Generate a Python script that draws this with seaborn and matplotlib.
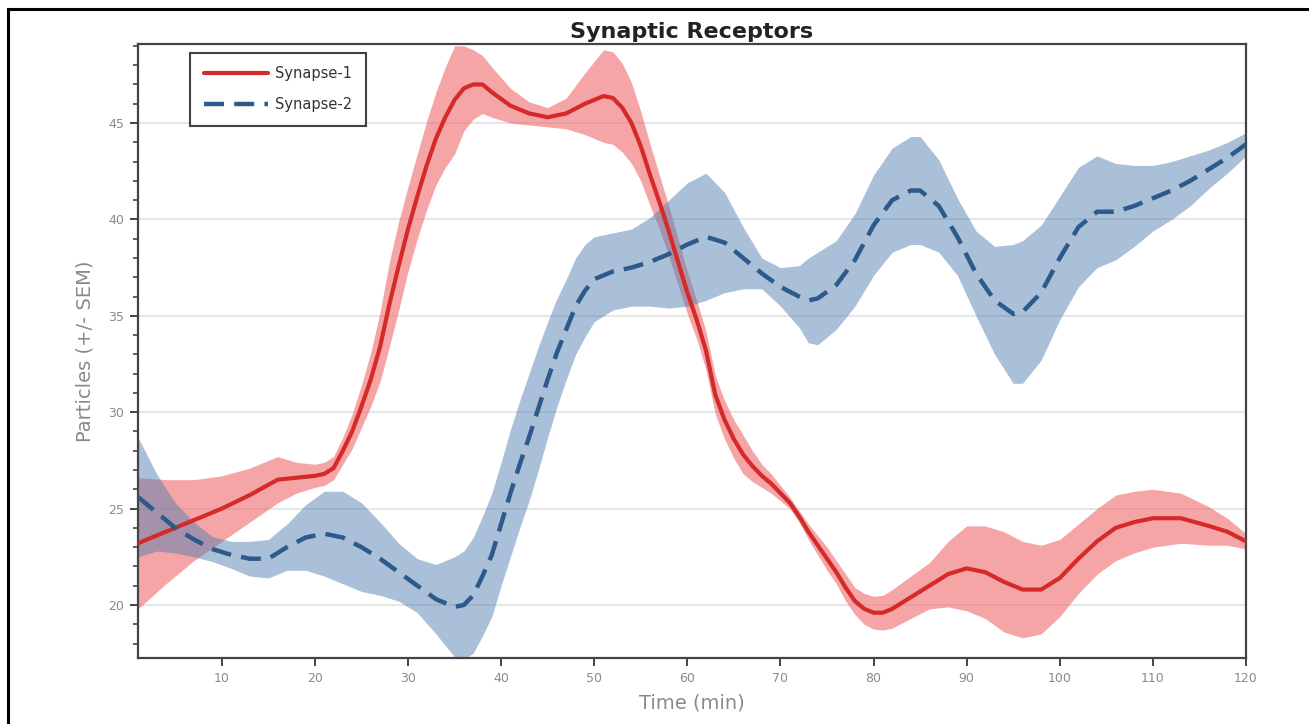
import numpy as np
import pandas as pd
import matplotlib
matplotlib.use("Agg")
import matplotlib.pyplot as plt
import seaborn as sns
from matplotlib.patches import Rectangle

# ---------------- data ----------------
t1 = [1, 4, 7, 10, 13, 16, 18, 20, 21, 22, 23, 24, 25, 26, 27, 28, 29, 30, 31, 32,
      33, 34, 35, 36, 37, 38, 39, 41, 43, 45, 47, 49, 51, 52, 53, 54, 55, 56, 57, 58,
      59, 60, 61, 62, 63, 64, 65, 66, 67, 68, 69, 70, 71, 72, 73, 74, 75, 76, 77, 78,
      79, 80, 81, 82, 84, 86, 88, 90, 92, 94, 96, 98, 100, 102, 104, 106, 108, 110,
      113, 116, 118, 120]
syn1_mean = [23.2, 23.8, 24.4, 25.0, 25.7, 26.5, 26.6, 26.7, 26.8, 27.1, 28.0, 29.0,
             30.3, 31.7, 33.4, 35.6, 37.6, 39.5, 41.2, 42.8, 44.2, 45.3, 46.2, 46.8,
             47.0, 47.0, 46.6, 45.9, 45.5, 45.3, 45.5, 46.0, 46.4, 46.3, 45.8, 45.0,
             43.8, 42.3, 40.9, 39.4, 37.8, 36.2, 34.8, 33.2, 30.9, 29.6, 28.6, 27.8,
             27.2, 26.7, 26.3, 25.8, 25.3, 24.6, 23.8, 23.1, 22.4, 21.7, 20.9, 20.2,
             19.8, 19.6, 19.6, 19.8, 20.4, 21.0, 21.6, 21.9, 21.7, 21.2, 20.8, 20.8,
             21.4, 22.4, 23.3, 24.0, 24.3, 24.5, 24.5, 24.1, 23.8, 23.3]
syn1_sem = [3.4, 2.7, 2.1, 1.7, 1.4, 1.2, 0.8, 0.6, 0.6, 0.6, 0.7, 0.9,
            1.1, 1.4, 1.8, 2.2, 2.3, 2.2, 2.2, 2.3, 2.4, 2.6, 2.8, 2.2,
            1.8, 1.5, 1.3, 0.9, 0.6, 0.5, 0.8, 1.6, 2.4, 2.4, 2.3, 2.1,
            1.8, 1.6, 1.4, 1.3, 1.2, 1.1, 1.0, 1.0, 1.0, 1.0, 1.0, 1.0,
            0.8, 0.6, 0.5, 0.4, 0.3, 0.3, 0.4, 0.5, 0.6, 0.6, 0.7, 0.7,
            0.8, 0.85, 0.9, 1.0, 1.1, 1.2, 1.7, 2.2, 2.4, 2.6, 2.5, 2.3,
            2.0, 1.8, 1.7, 1.7, 1.6, 1.5, 1.3, 1.0, 0.7, 0.4]

t2 = [1, 3, 5, 7, 9, 11, 13, 15, 17, 19, 21, 23, 25, 27, 29, 31, 33, 35, 36, 37,
      38, 39, 40, 41, 42, 43, 44, 45, 46, 47, 48, 49, 50, 52, 54, 56, 58, 60, 62,
      64, 66, 68, 70, 72, 73, 74, 76, 78, 80, 82, 84, 85, 87, 89, 91, 93, 95, 96,
      98, 100, 102, 104, 106, 108, 110, 112, 114, 116, 118, 120]
syn2_mean = [25.6, 24.8, 24.0, 23.4, 22.9, 22.6, 22.4, 22.4, 23.0, 23.5, 23.7, 23.5,
             23.0, 22.4, 21.7, 21.0, 20.3, 19.9, 20.0, 20.5, 21.5, 22.6, 24.2, 25.8,
             27.3, 28.7, 30.2, 31.7, 33.1, 34.3, 35.5, 36.3, 36.9, 37.3, 37.5, 37.8,
             38.2, 38.7, 39.1, 38.8, 38.0, 37.2, 36.5, 36.0, 35.8, 35.9, 36.6, 37.9,
             39.7, 41.0, 41.5, 41.5, 40.7, 39.1, 37.2, 35.8, 35.1, 35.2, 36.2, 38.0,
             39.6, 40.4, 40.4, 40.7, 41.1, 41.5, 42.0, 42.6, 43.2, 43.9]
syn2_sem = [3.1, 2.0, 1.3, 0.9, 0.65, 0.7, 0.9, 1.0, 1.2, 1.7, 2.2, 2.4,
            2.3, 1.9, 1.5, 1.4, 1.8, 2.6, 2.8, 3.0, 3.1, 3.2, 3.2, 3.3,
            3.3, 3.3, 3.2, 3.0, 2.8, 2.6, 2.5, 2.4, 2.2, 2.0, 2.0, 2.3,
            2.8, 3.2, 3.3, 2.6, 1.6, 0.8, 1.0, 1.6, 2.2, 2.4, 2.3, 2.4,
            2.6, 2.7, 2.8, 2.8, 2.4, 2.0, 2.2, 2.8, 3.6, 3.7, 3.5, 3.2,
            3.1, 2.9, 2.5, 2.1, 1.7, 1.5, 1.3, 1.0, 0.8, 0.6]

labels = ["Synapse-1", "Synapse-2"]
x_ticks = [10, 20, 30, 40, 50, 60, 70, 80, 90, 100, 110, 120]
y_ticks = [20, 25, 30, 35, 40, 45]

# ---------------- styling ----------------
sns.set_style("white")
plt.rcParams['font.family'] = ['DejaVu Sans']

red_line = "#d42a2a"
red_fill = "#ef6a6a"
blue_line = "#2d5a8a"
blue_fill = "#4f7cae"
grey_txt = "#8a8a8a"
axis_col = "#444444"

fig = plt.figure(figsize=(13.09, 7.24), dpi=100)
ax = fig.add_axes([138 / 1309, 1 - 658 / 724, (1246 - 138) / 1309, (658 - 44) / 724])

df1 = pd.DataFrame({"t": t1, "m": syn1_mean, "s": syn1_sem})
df2 = pd.DataFrame({"t": t2, "m": syn2_mean, "s": syn2_sem})

ax.fill_between(df1["t"], df1["m"] - df1["s"], df1["m"] + df1["s"],
                color=red_fill, alpha=0.6, lw=0, zorder=2)
ax.fill_between(df2["t"], df2["m"] - df2["s"], df2["m"] + df2["s"],
                color=blue_fill, alpha=0.48, lw=0, zorder=2)

sns.lineplot(data=df1, x="t", y="m", color=red_line, lw=3.0, ax=ax,
             label=labels[0], zorder=4, solid_joinstyle="round")
sns.lineplot(data=df2, x="t", y="m", color=blue_line, lw=3.2, ax=ax,
             label=labels[1], zorder=4)
ax.lines[-1].set_dashes([4.5, 2.3])
ax.lines[-1].set_dash_capstyle("butt")

ax.set_xlim(1, 120)
ax.set_ylim(17.25, 49.1)
ax.set_xticks(x_ticks)
ax.set_yticks(y_ticks)
ax.set_yticks(np.arange(18, 50, 1), minor=True)
ax.yaxis.grid(True, which="major", color="#e2e2e2", lw=1.2, zorder=0)
ax.set_axisbelow(True)

for sp in ax.spines.values():
    sp.set_color(axis_col)
    sp.set_linewidth(1.6)

ax.tick_params(axis="both", which="major", direction="out", length=6, width=1.4,
               color=axis_col, labelcolor=grey_txt, labelsize=9, pad=4)
ax.tick_params(axis="y", which="minor", direction="out", length=3.5, width=1.2,
               color=axis_col, left=True)
ax.tick_params(axis="x", which="major", bottom=True)
ax.tick_params(axis="y", which="major", left=True)

ax.set_xlabel("Time (min)", color=grey_txt, fontsize=14, labelpad=6)
ax.set_ylabel("Particles (+/- SEM)", color=grey_txt, fontsize=14, labelpad=10)
ax.set_title("Synaptic Receptors", fontsize=16, fontweight="bold",
             color="#222222", pad=4)

leg = ax.legend(loc="upper left", bbox_to_anchor=(0.047, 0.986), frameon=True,
                fancybox=False, edgecolor="#111111", fontsize=10.5,
                handlelength=4.4, borderpad=0.95, labelspacing=1.05,
                handletextpad=0.5, borderaxespad=0)
leg.get_frame().set_linewidth(1.5)
for txt in leg.get_texts():
    txt.set_color("#333333")

# outer black border of the figure (left and top edges visible)
fig.patches.append(Rectangle((8 / 1309, -0.05), 1.2, 1 - 9 / 724 + 0.05,
                             transform=fig.transFigure, fill=False,
                             edgecolor="black", lw=2.2, zorder=10))

fig.savefig("out.png", dpi=100)
